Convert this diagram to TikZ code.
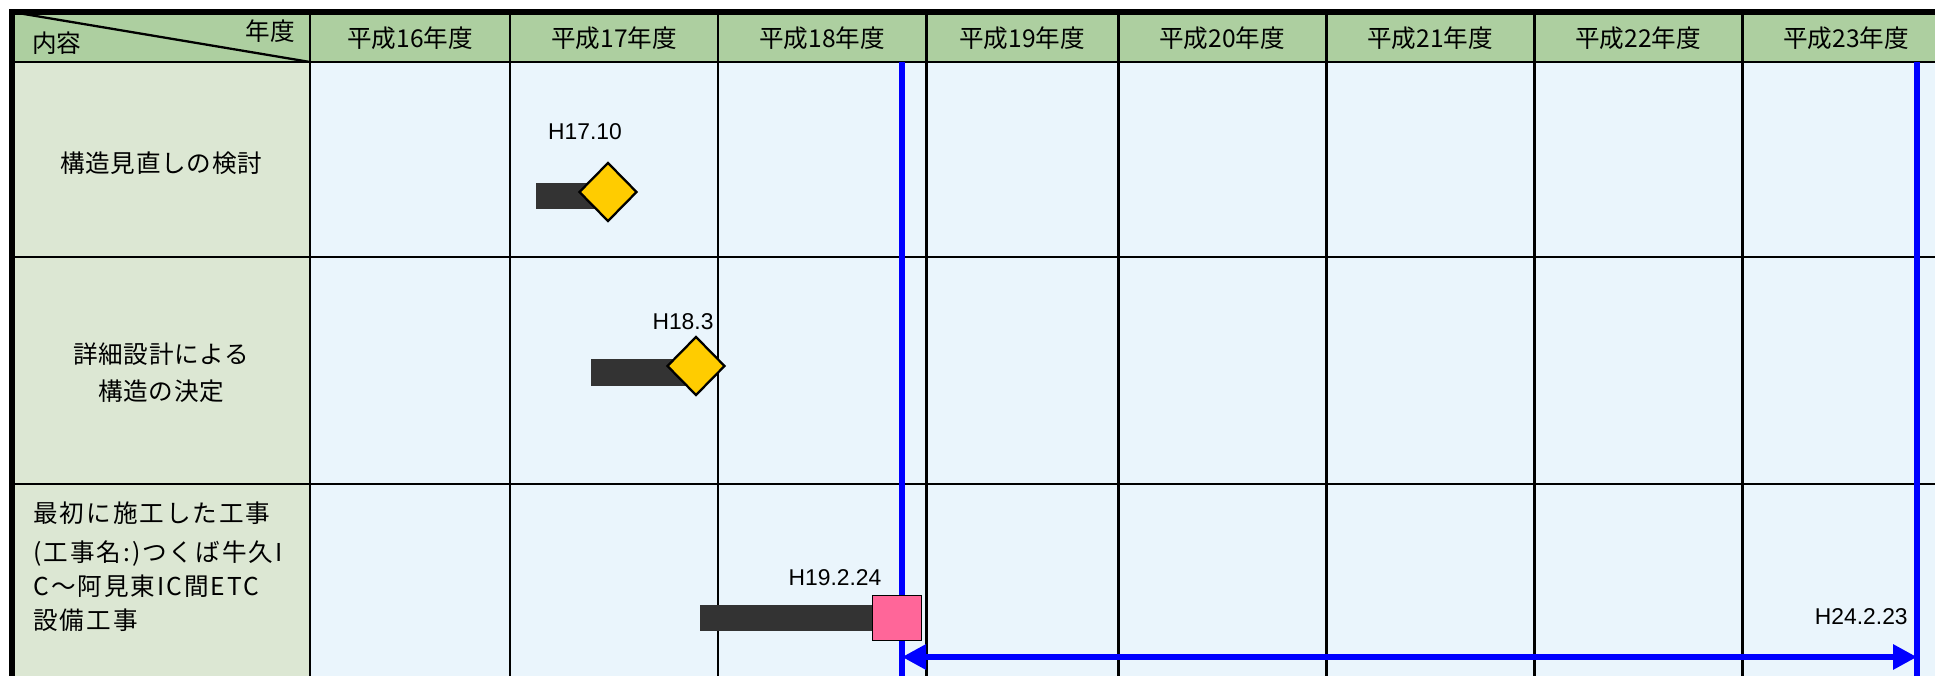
\documentclass[tikz,border=0pt]{standalone}
\usepackage{fontspec}
\setmainfont{Liberation Sans}
\newfontfamily\jpfont{Noto Sans CJK JP}
\usetikzlibrary{shapes.geometric,arrows.meta}
\definecolor{HeadGreen}{RGB}{173,207,160}
\definecolor{ItemGreen}{RGB}{220,231,211}
\definecolor{CellBlue}{RGB}{234,245,252}
\definecolor{BarGray}{RGB}{51,51,51}
\definecolor{MileGold}{RGB}{255,204,0}
\definecolor{DonePink}{RGB}{255,102,153}
\definecolor{SpanBlue}{RGB}{0,0,255}

\begin{document}
\begin{tikzpicture}[x=0.02cm,y=-0.02cm,
    grid/.style={black,line width=1.7pt},
    frame/.style={black,line width=3pt},
    hdr/.style={font=\jpfont\fontsize{14}{17}\selectfont,inner sep=0pt},
    item/.style={font=\jpfont\fontsize{14}{21}\selectfont\addfontfeature{LetterSpace=3},
                 align=center,inner sep=0pt},
    bar/.style={fill=BarGray},
    mile/.style={diamond,draw=black,line width=1.3pt,fill=MileGold,inner sep=0pt,
                 minimum width=1.16cm,minimum height=1.18cm},
    done/.style={rectangle,draw=black,line width=1.1pt,fill=DonePink,inner sep=0pt,
                 minimum width=0.98cm,minimum height=0.9cm},
    date/.style={font=\fontsize{13}{15}\selectfont,inner sep=0pt},
    span/.style={SpanBlue,line width=2.9pt}]
    \useasboundingbox (0,0) rectangle (1935,676);
    \fill[white] (0,0) rectangle (1935,676);
    \fill[HeadGreen] (12,12) rectangle (1935,62);
    \fill[ItemGreen] (12,62) rectangle (310,676);
    \fill[CellBlue] (310,62) rectangle (1935,676);
    \foreach \x in {310,510,718,926,1118,1326,1534,1742}
      \draw[grid] (\x,12)--(\x,676);
    \foreach \y in {62,257,484}
      \draw[grid] (12,\y)--(1935,\y);
    \draw[grid,line width=1.3pt] (12,12)--(310,62);
    \draw[frame] (12,676)--(12,12)--(1935,12);
    \node[hdr,anchor=west] (naiyo) at (32,43) {内容};
    \node[hdr,anchor=east] (nendo) at (295,31) {年度};
    \foreach \c/\yr in {410/16,614/17,822/18,1022/19,1222/20,1430/21,1638/22,1846/23}
      \node[hdr] (y\yr) at (\c,38) {平成\yr 年度};
    \node[item] (task1) at (161,163) {構造見直しの検討};
    \node[item] (task2) at (161,373) {詳細設計による\\構造の決定};
    \node[item,align=left,anchor=north west,
          font=\jpfont\fontsize{14}{19.3}\selectfont\addfontfeature{LetterSpace=8}]
      (task3) at (33,501) {最初に施工した工事\\[3pt](工事名:)つくば牛久I\\C～阿見東IC間ETC\\設備工事};
    \coordinate (s1top) at (902,62);
    \coordinate (s1bot) at (902,676);
    \coordinate (s2top) at (1917,62);
    \coordinate (s2bot) at (1917,676);
    \draw[span] (s1top)--(s1bot);
    \draw[span] (s2top)--(s2bot);
    \coordinate (a1) at (902,657);
    \coordinate (a2) at (1917,657);
    \draw[span,line width=3.4pt,{Triangle[length=0.48cm,width=0.48cm]}-{Triangle[length=0.48cm,width=0.48cm]}] (a1)--(a2);
    \fill[bar] (536,183) rectangle (608,209);
    \fill[bar] (591,359) rectangle (696,386);
    \fill[bar] (700,605) rectangle (897,631);
    \node[mile] (m1) at (608,192) {};
    \node[mile] (m2) at (696,366) {};
    \node[done] (m3) at (897,618) {};
    \node[date] (d1) at (585,132) {H17.10};
    \node[date] (d2) at (683,322) {H18.3};
    \node[date] (d3) at (835,578) {H19.2.24};
    \node[date,anchor=east] (d4) at (1908,617) {H24.2.23};
\end{tikzpicture}
\end{document}
